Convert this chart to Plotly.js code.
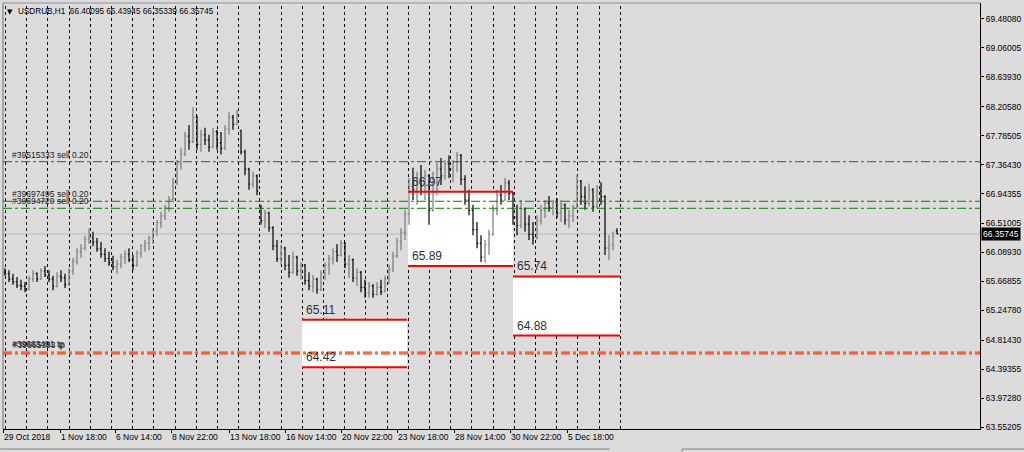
<!DOCTYPE html>
<html><head><meta charset="utf-8">
<script src="https://cdn.plot.ly/plotly-3.0.1.min.js"></script>
<style>html,body{margin:0;padding:0;background:#dcdcdc;overflow:hidden}#chart{width:1024px;height:452px}</style>
</head><body><div id="chart"></div>
<script>
// ---- data (H1 USDRUB, aggregated bars) ----
const opens = [
65.80,65.78,65.70,65.66,65.61,65.60,65.56,65.70,65.78,65.70,
65.82,65.76,65.70,65.60,65.74,65.72,65.62,65.82,65.96,66.10,
66.15,66.28,66.30,66.24,66.14,66.06,66.00,65.94,65.88,65.92,
66.02,66.06,65.98,65.90,66.08,66.18,66.22,66.30,66.40,66.52,
66.62,66.74,66.86,67.10,67.38,67.52,67.78,67.70,68.05,67.66,
67.80,67.72,67.62,67.84,67.68,67.60,67.88,68.05,67.95,67.86,
67.55,67.30,67.08,67.20,66.75,66.55,66.66,66.45,66.18,66.00,
66.15,65.90,65.80,66.02,65.82,65.90,65.68,65.60,65.70,65.55,
65.78,65.90,66.00,66.10,66.05,66.22,65.92,65.98,65.72,65.80,
65.58,65.50,65.60,65.48,65.58,65.52,65.70,65.85,66.04,66.25,
66.38,66.65,67.05,67.00,67.15,67.05,67.20,66.70,67.10,67.30,
67.20,67.38,67.30,67.40,67.50,67.15,66.85,66.70,66.42,66.22,
66.02,66.20,66.35,66.70,66.92,66.85,67.10,66.95,66.60,66.48,
66.72,66.50,66.35,66.30,66.55,66.70,66.80,66.74,66.82,66.66,
66.78,66.56,66.62,66.74,67.12,66.90,66.80,67.00,66.75,66.98,
66.90,66.15,66.20,66.40095];
const highs = [
65.86,65.83,65.78,65.73,65.69,65.66,65.75,65.83,65.80,65.86,
65.89,65.83,65.75,65.80,65.83,65.78,65.86,66.01,66.15,66.21,
66.33,66.44,66.39,66.30,66.24,66.15,66.10,66.04,65.98,66.07,
66.12,66.15,66.05,66.12,66.21,66.27,66.33,66.44,66.56,66.68,
66.78,66.91,67.17,67.43,67.61,67.84,67.94,68.20,68.08,67.87,
67.90,67.80,67.90,67.87,67.84,67.94,68.13,68.09,68.16,67.87,
67.58,67.32,67.26,67.22,66.78,66.71,66.68,66.47,66.27,66.20,
66.17,66.05,66.10,66.04,65.95,65.92,65.80,65.76,65.72,65.83,
65.95,66.05,66.15,66.21,66.27,66.24,66.05,66.00,65.86,65.82,
65.69,65.66,65.63,65.66,65.69,65.75,65.91,66.10,66.30,66.44,
66.71,67.17,67.32,67.26,67.36,67.29,67.22,67.26,67.39,67.46,
67.43,67.50,67.43,67.55,67.52,67.21,67.00,66.78,66.53,66.34,
66.27,66.42,66.78,67.00,67.07,67.17,67.14,66.97,66.78,66.85,
66.74,66.63,66.53,66.63,66.78,66.85,66.91,66.85,66.88,66.85,
66.80,66.71,66.78,67.21,67.14,67.05,67.09,67.02,67.07,67.11,
66.92,66.34,66.39,66.43945];
const lows = [
65.75,65.66,65.62,65.57,65.54,65.51,65.54,65.66,65.66,65.69,
65.73,65.66,65.54,65.58,65.66,65.57,65.60,65.76,65.91,66.01,
66.12,66.21,66.18,66.10,66.01,65.95,65.89,65.83,65.78,65.86,
65.92,65.95,65.83,65.88,66.01,66.10,66.12,66.21,66.33,66.44,
66.56,66.68,66.85,67.07,67.29,67.49,67.58,67.68,67.58,67.55,
67.65,67.55,67.60,67.58,67.51,67.58,67.80,67.87,67.94,67.51,
67.21,67.00,67.03,66.92,66.49,66.44,66.39,66.12,65.95,65.91,
65.83,65.72,65.78,65.75,65.69,65.62,65.54,65.51,65.49,65.53,
65.69,65.76,65.91,65.95,66.03,65.86,65.72,65.66,65.60,65.51,
65.43,65.43,65.43,65.46,65.47,65.51,65.63,65.80,66.01,66.12,
66.27,66.49,66.85,66.78,66.92,66.85,66.49,66.68,66.92,67.07,
67.14,67.17,67.11,67.26,67.07,66.78,66.63,66.34,66.15,65.95,
65.94,66.05,66.33,66.63,66.78,66.84,66.85,66.49,66.34,66.44,
66.39,66.27,66.20,66.28,66.49,66.59,66.68,66.63,66.59,66.53,
66.49,66.44,66.53,66.72,66.78,66.71,66.76,66.68,66.73,66.78,
66.05,65.98,66.12,66.35339];
const closes = [
65.78,65.70,65.66,65.61,65.60,65.56,65.70,65.78,65.70,65.82,
65.76,65.70,65.60,65.74,65.72,65.62,65.82,65.96,66.10,66.15,
66.28,66.30,66.24,66.14,66.06,66.00,65.94,65.88,65.92,66.02,
66.06,65.98,65.90,66.08,66.18,66.22,66.30,66.40,66.52,66.62,
66.74,66.86,67.10,67.38,67.52,67.78,67.70,68.05,67.66,67.80,
67.72,67.62,67.84,67.68,67.60,67.88,68.05,67.95,68.10,67.55,
67.30,67.08,67.20,66.98,66.55,66.66,66.45,66.18,66.00,66.15,
65.90,65.80,66.02,65.82,65.90,65.68,65.60,65.70,65.55,65.78,
65.90,66.00,66.10,66.05,66.22,65.92,65.98,65.72,65.80,65.58,
65.50,65.60,65.48,65.58,65.52,65.70,65.85,66.04,66.25,66.38,
66.65,67.05,67.00,67.15,67.05,67.20,66.70,67.10,67.30,67.20,
67.38,67.30,67.40,67.50,67.15,66.85,66.70,66.42,66.22,66.02,
66.20,66.35,66.70,66.92,66.85,67.10,66.95,66.60,66.48,66.72,
66.50,66.35,66.30,66.55,66.70,66.80,66.74,66.82,66.66,66.78,
66.56,66.62,66.74,67.12,66.90,66.80,67.00,66.75,66.98,66.90,
66.15,66.20,66.32,66.35745];
const lastPrice = 66.35745;
const headerValues = ['66.40095','66.43945','66.35339','66.35745'];

const timeLabels = ['29 Oct 2018','1 Nov 18:00','6 Nov 14:00','8 Nov 22:00','13 Nov 18:00','16 Nov 14:00','20 Nov 22:00','23 Nov 18:00','28 Nov 14:00','30 Nov 22:00','5 Dec 18:00'];
const timeLabelBars = [-0.5,13.75,27.5,41.5,56,70,84,98,112.25,126.25,140.5];
const daySeparatorCount = 30;
const daySeparatorPx = 21.2;   // spacing of day separators in screen pixels

const priceTicks = [69.48080,69.06005,68.63930,68.20580,67.78505,67.36430,66.94355,66.51005,66.08930,65.66855,65.24780,64.81430,64.39355,63.97280,63.55205];

const orderLabels = ['#39515333 sell 0.20','#39697495 sell 0.20','#39694720 sell 0.20'];
const orderPrices = [67.407,66.832,66.730];
const tpLabels = ['#39663491 tp','#39665393 tp'];
const tpPrices = [64.640,64.615];

const zoneStart = [74.25,100.75,127];
const zoneEnd = [100.5,127,153.75];
const zoneHigh = [65.11,66.97,65.74];
const zoneLow = [64.42,65.89,64.88];

// ---- build ----
const barIndex = opens.map((_, i) => i);
const trace = {
  type: 'ohlc', x: barIndex, open: opens, high: highs, low: lows, close: closes,
  increasing: {line: {color: '#7a7a7a', width: 1.2}},
  decreasing: {line: {color: '#000000', width: 1.2}},
  tickwidth: 0.3, hoverinfo: 'skip', showlegend: false
};

const shapes = [];
const annotations = [];
const fnt = 'Liberation Sans, Arial, sans-serif';

// current price line
shapes.push({type:'line', xref:'paper', x0:0, x1:1, yref:'y', y0:lastPrice, y1:lastPrice, line:{color:'#bcbcbc', width:1}, layer:'below'});

// zones (white fill)
for (let i = 0; i < zoneStart.length; i++) {
  shapes.push({type:'rect', xref:'x', yref:'y', x0:zoneStart[i], x1:zoneEnd[i], y0:zoneLow[i], y1:zoneHigh[i], fillcolor:'#ffffff', line:{width:0}, layer:'below'});
}
// day separators (snapped to pixel centres; 1 bar unit = 4 px, bar 0 at px 5)
for (let j = 0; j < daySeparatorCount; j++) {
  const px = Math.round(5 + daySeparatorPx * j) + 0.5;
  const xv = (px - 5) / 4;
  shapes.push({type:'line', xref:'x', yref:'paper', x0:xv, x1:xv, y0:0, y1:1, line:{color:'#000000', width:1, dash:'3px,3px'}, layer:'below'});
}
// left border
shapes.push({type:'line', xref:'paper', yref:'paper', x0:0, x1:0, y0:0, y1:1, line:{color:'#707070', width:1}});
// top border
shapes.push({type:'line', xref:'paper', yref:'paper', x0:0, x1:1, y0:1, y1:1, line:{color:'#909090', width:1}});

// zone red lines + labels
for (let i = 0; i < zoneStart.length; i++) {
  [zoneHigh[i], zoneLow[i]].forEach(v => {
    shapes.push({type:'line', xref:'x', yref:'y', x0:zoneStart[i], x1:zoneEnd[i], y0:v, y1:v, line:{color:'#ff0000', width:2}, layer:'above'});
    annotations.push({xref:'x', yref:'y', x:zoneStart[i] + 0.5, y:v, xanchor:'left', yanchor:'bottom', yshift:1, showarrow:false, text:v.toFixed(2), font:{family:fnt, size:12, color:'#303030'}});
  });
}
// order lines
orderPrices.forEach((p, i) => {
  shapes.push({type:'line', xref:'paper', x0:0, x1:1, yref:'y', y0:p, y1:p, line:{color:'#008000', width:1, dash:'dashdot'}, layer:'above'});
  annotations.push({xref:'paper', yref:'y', x:0.0072, y:p, xanchor:'left', yanchor:'bottom', yshift:0, showarrow:false, text:orderLabels[i], font:{family:fnt, size:8.5, color:'#202020'}});
});
tpPrices.forEach((p, i) => {
  shapes.push({type:'line', xref:'paper', x0:0, x1:1, yref:'y', y0:p, y1:p, line:{color:'#ff3800', width:1.4, dash:'dashdot'}, layer:'above'});
  annotations.push({xref:'paper', yref:'y', x:0.0072 + i*0.0012, y:tpPrices[0], xanchor:'left', yanchor:'bottom', yshift:1 - i, showarrow:false, text:tpLabels[i], font:{family:fnt, size:8.5, color:'#202020'}});
});

// current price tag
annotations.push({xref:'paper', yref:'y', x:1, y:lastPrice, xanchor:'left', yanchor:'middle', xshift:1, showarrow:false, text:lastPrice.toFixed(5), bgcolor:'#000000', borderpad:1, font:{family:fnt, size:8.5, color:'#ffffff'}});
// header
annotations.push({xref:'paper', yref:'paper', x:0.002, y:1, xanchor:'left', yanchor:'top', yshift:-3, showarrow:false, text:'▼', font:{family:'DejaVu Sans', size:7, color:'#000'}});
annotations.push({xref:'paper', yref:'paper', x:0.0135, y:1, xanchor:'left', yanchor:'top', yshift:-2, showarrow:false, text:'USDRUB,H1  ' + headerValues.join(' '), font:{family:fnt, size:8.2, color:'#000'}});

// bottom tab outlines
shapes.push({type:'line', xref:'paper', yref:'paper', x0:-0.003, x1:0.621, y0:-0.047, y1:-0.047, line:{color:'#808080', width:1}});
shapes.push({type:'line', xref:'paper', yref:'paper', x0:0.695, x1:1.05, y0:-0.047, y1:-0.047, line:{color:'#808080', width:1}});
shapes.push({type:'line', xref:'paper', yref:'paper', x0:0.695, x1:0.695, y0:-0.047, y1:-0.06, line:{color:'#808080', width:1}});

const layout = {
  width: 1024, height: 452,
  margin: {l:3, r:44, t:3, b:23},
  paper_bgcolor: '#dcdcdc', plot_bgcolor: '#dcdcdc',
  showlegend: false, dragmode: false,
  xaxis: {range:[-0.5, 243.75], rangeslider:{visible:false}, showgrid:false, zeroline:false,
    tickmode:'array', tickvals: timeLabelBars, ticktext: timeLabels, tickangle:0, ticks:'outside', ticklen:3, tickcolor:'#000',
    ticklabelposition:'outside right', showline:true, linecolor:'#000', linewidth:1,
    tickfont:{family:fnt, size:8.5, color:'#000'}},
  yaxis: {side:'right', range:[63.523, 69.713], showgrid:false, zeroline:false,
    tickmode:'array', tickvals: priceTicks, ticktext: priceTicks.map(v => v.toFixed(5)),
    ticks:'outside', ticklen:3, tickcolor:'#000', showline:true, linecolor:'#000', linewidth:1,
    tickfont:{family:fnt, size:8.5, color:'#000'}},
  shapes: shapes, annotations: annotations
};
Plotly.newPlot('chart', [trace], layout, {staticPlot:true, displayModeBar:false});
</script></body></html>
